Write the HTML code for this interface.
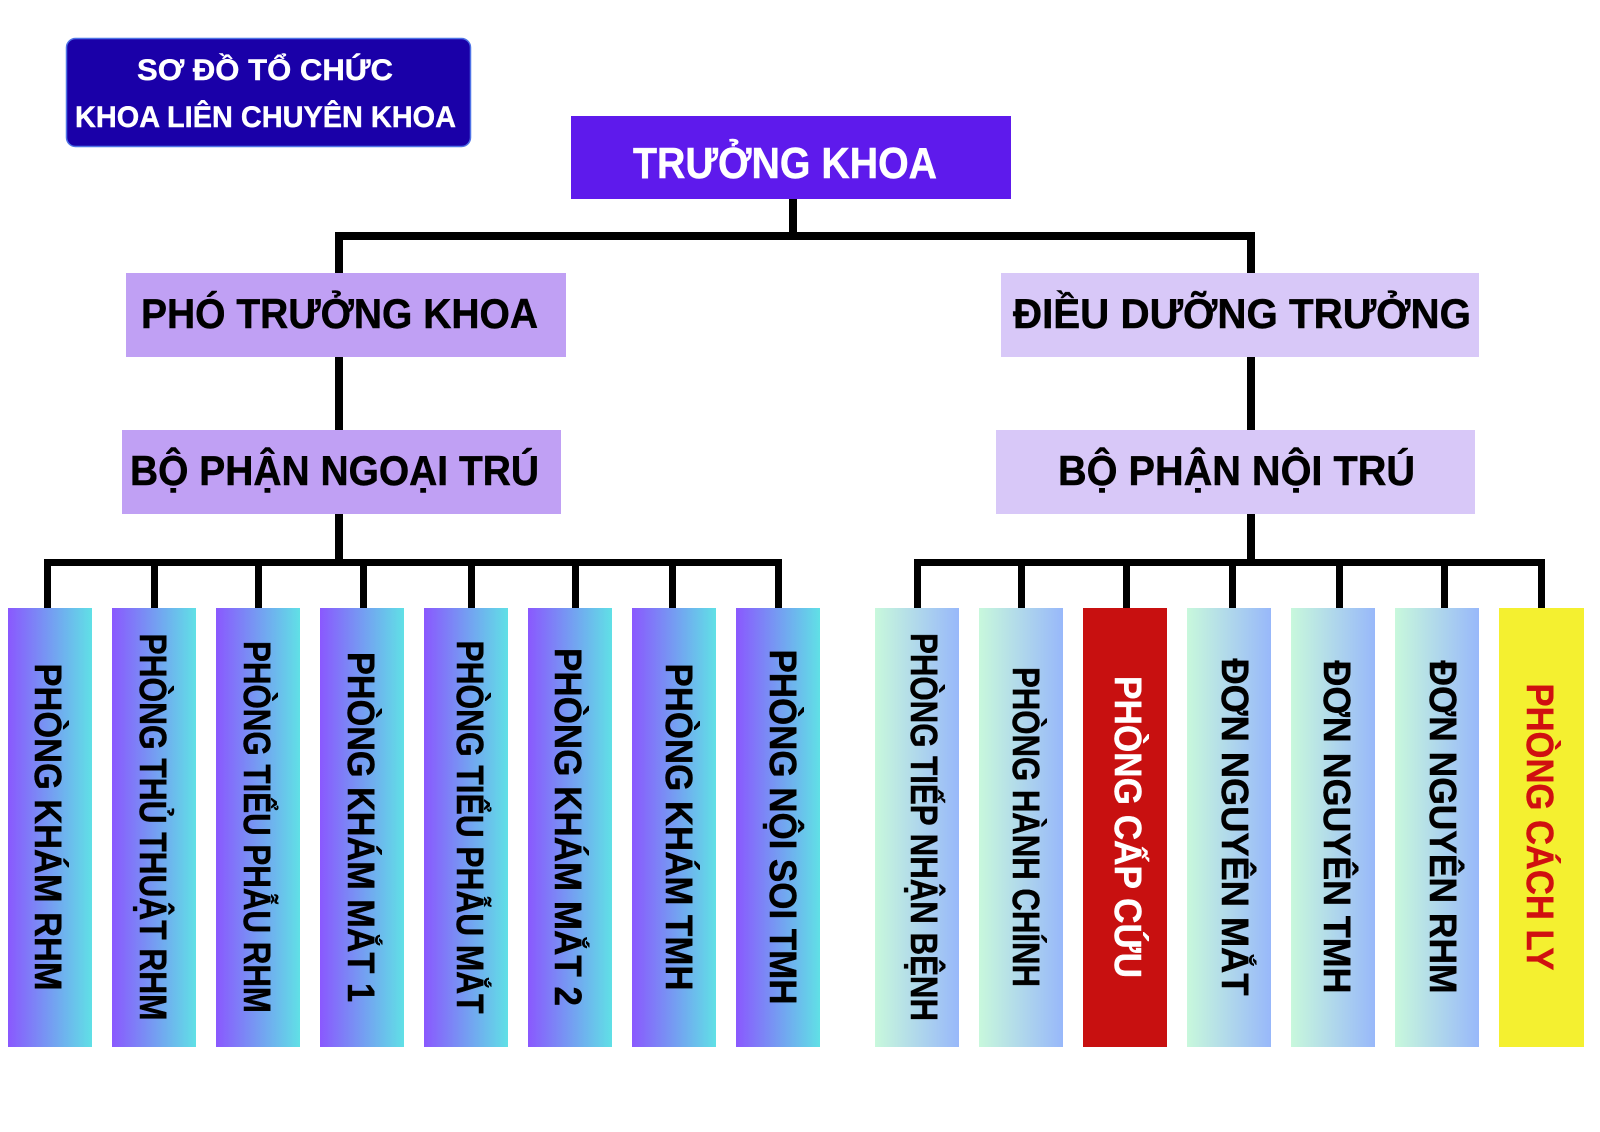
<!DOCTYPE html>
<html><head><meta charset="utf-8"><style>
html,body{margin:0;padding:0;background:#fff;}
svg{display:block;}
text{font-family:"Liberation Sans","DejaVu Sans",sans-serif;font-weight:bold;}
</style></head><body>
<svg width="1600" height="1132" viewBox="0 0 1600 1132" xmlns="http://www.w3.org/2000/svg">
<defs>
<linearGradient id="gl" x1="0" y1="0" x2="1" y2="0"><stop offset="0" stop-color="#8a58fe"/><stop offset="1" stop-color="#60e0e6"/></linearGradient>
<linearGradient id="gr" x1="0" y1="0" x2="1" y2="0"><stop offset="0" stop-color="#c8f8dc"/><stop offset="1" stop-color="#98b8fa"/></linearGradient>
</defs>
<rect width="1600" height="1132" fill="#fff"/>
<!-- title -->
<rect x="66.5" y="38.5" width="404" height="108" rx="9" fill="#1a00a8" stroke="#4f73e6" stroke-width="1.5"/>
<text x="265" y="80" fill="#fff" stroke="#fff" stroke-width="0.4" font-size="30" text-anchor="middle" textLength="256" lengthAdjust="spacingAndGlyphs">SƠ ĐỒ TỔ CHỨC</text>
<text x="265.5" y="127" fill="#fff" stroke="#fff" stroke-width="0.4" font-size="30" text-anchor="middle" textLength="381" lengthAdjust="spacingAndGlyphs">KHOA LIÊN CHUYÊN KHOA</text>
<!-- connectors top -->
<g fill="#000">
<rect x="789" y="198" width="8" height="40"/>
<rect x="335" y="232" width="920" height="8"/>
<rect x="335" y="232" width="8" height="42"/>
<rect x="1247" y="232" width="8" height="42"/>
<rect x="335" y="356" width="8" height="75"/>
<rect x="1247" y="356" width="8" height="75"/>
<rect x="335" y="513" width="8" height="50"/>
<rect x="1247" y="513" width="8" height="50"/>
<rect x="44" y="559" width="738" height="7"/>
<rect x="914" y="559" width="631" height="7"/>
<rect x="44" y="559" width="7" height="50"/>
<rect x="151" y="559" width="7" height="50"/>
<rect x="255" y="559" width="7" height="50"/>
<rect x="360" y="559" width="7" height="50"/>
<rect x="468" y="559" width="7" height="50"/>
<rect x="572" y="559" width="7" height="50"/>
<rect x="669" y="559" width="7" height="50"/>
<rect x="775" y="559" width="7" height="50"/>
<rect x="914" y="559" width="7" height="50"/>
<rect x="1018" y="559" width="7" height="50"/>
<rect x="1123" y="559" width="7" height="50"/>
<rect x="1229" y="559" width="7" height="50"/>
<rect x="1336" y="559" width="7" height="50"/>
<rect x="1441" y="559" width="7" height="50"/>
<rect x="1538" y="559" width="7" height="50"/>
</g>
<!-- main boxes -->
<rect x="571" y="116" width="440" height="83" fill="#5e1aec"/>
<text x="785" y="178" fill="#fff" stroke="#fff" stroke-width="0.5" font-size="44" text-anchor="middle" textLength="304" lengthAdjust="spacingAndGlyphs">TRƯỞNG KHOA</text>
<g stroke="#000" stroke-width="0.5">
<rect x="126" y="273" width="440" height="84" fill="#c0a0f4" stroke="none"/>
<text x="339.5" y="328" fill="#000" font-size="42" text-anchor="middle" textLength="397" lengthAdjust="spacingAndGlyphs">PHÓ TRƯỞNG KHOA</text>
<rect x="1001" y="273" width="478" height="84" fill="#d8c8f8" stroke="none"/>
<text x="1242" y="328" fill="#000" font-size="42" text-anchor="middle" textLength="458" lengthAdjust="spacingAndGlyphs">ĐIỀU DƯỠNG TRƯỞNG</text>
<rect x="122" y="430" width="439" height="84" fill="#c0a0f4" stroke="none"/>
<text x="334.5" y="485" fill="#000" font-size="42" text-anchor="middle" textLength="409" lengthAdjust="spacingAndGlyphs">BỘ PHẬN NGOẠI TRÚ</text>
<rect x="996" y="430" width="479" height="84" fill="#d8c8f8" stroke="none"/>
<text x="1236.5" y="485" fill="#000" font-size="42" text-anchor="middle" textLength="357" lengthAdjust="spacingAndGlyphs">BỘ PHẬN NỘI TRÚ</text>
</g>
<!-- bottom boxes -->
<g>
<rect x="8" y="608" width="84" height="439" fill="url(#gl)"/>
<rect x="112" y="608" width="84" height="439" fill="url(#gl)"/>
<rect x="216" y="608" width="84" height="439" fill="url(#gl)"/>
<rect x="320" y="608" width="84" height="439" fill="url(#gl)"/>
<rect x="424" y="608" width="84" height="439" fill="url(#gl)"/>
<rect x="528" y="608" width="84" height="439" fill="url(#gl)"/>
<rect x="632" y="608" width="84" height="439" fill="url(#gl)"/>
<rect x="736" y="608" width="84" height="439" fill="url(#gl)"/>
<rect x="875" y="608" width="84" height="439" fill="url(#gr)"/>
<rect x="979" y="608" width="84" height="439" fill="url(#gr)"/>
<rect x="1083" y="608" width="84" height="439" fill="#c81010"/>
<rect x="1187" y="608" width="84" height="439" fill="url(#gr)"/>
<rect x="1291" y="608" width="84" height="439" fill="url(#gr)"/>
<rect x="1395" y="608" width="84" height="439" fill="url(#gr)"/>
<rect x="1499" y="608" width="85" height="439" fill="#f4f030"/>
</g>
<g font-size="38" text-anchor="middle" fill="#000" stroke="#000" stroke-width="0.5">
<text transform="translate(35,827) rotate(90)" textLength="327" lengthAdjust="spacingAndGlyphs">PHÒNG KHÁM RHM</text>
<text transform="translate(140,827) rotate(90)" textLength="387" lengthAdjust="spacingAndGlyphs">PHÒNG THỦ THUẬT RHM</text>
<text transform="translate(244,827) rotate(90)" textLength="372" lengthAdjust="spacingAndGlyphs">PHÒNG TIỂU PHẪU RHM</text>
<text transform="translate(348,827) rotate(90)" textLength="350" lengthAdjust="spacingAndGlyphs">PHÒNG KHÁM MẮT 1</text>
<text transform="translate(457,827) rotate(90)" textLength="373" lengthAdjust="spacingAndGlyphs">PHÒNG TIỂU PHẪU MẮT</text>
<text transform="translate(555,827) rotate(90)" textLength="358" lengthAdjust="spacingAndGlyphs">PHÒNG KHÁM MẮT 2</text>
<text transform="translate(666,827) rotate(90)" textLength="327" lengthAdjust="spacingAndGlyphs">PHÒNG KHÁM TMH</text>
<text transform="translate(770,827) rotate(90)" textLength="355" lengthAdjust="spacingAndGlyphs">PHÒNG NỘI SOI TMH</text>
<text transform="translate(911,827) rotate(90)" textLength="388" lengthAdjust="spacingAndGlyphs">PHÒNG TIẾP NHẬN BỆNH</text>
<text transform="translate(1013,827) rotate(90)" textLength="320" lengthAdjust="spacingAndGlyphs">PHÒNG HÀNH CHÍNH</text>
<text transform="translate(1115,827) rotate(90)" textLength="302" lengthAdjust="spacingAndGlyphs" fill="#fff" stroke="#fff">PHÒNG CẤP CỨU</text>
<text transform="translate(1222,827) rotate(90)" textLength="337" lengthAdjust="spacingAndGlyphs">ĐƠN NGUYÊN MẮT</text>
<text transform="translate(1324,827) rotate(90)" textLength="333" lengthAdjust="spacingAndGlyphs">ĐƠN NGUYÊN TMH</text>
<text transform="translate(1430,827) rotate(90)" textLength="333" lengthAdjust="spacingAndGlyphs">ĐƠN NGUYÊN RHM</text>
<text transform="translate(1527,827) rotate(90)" textLength="287" lengthAdjust="spacingAndGlyphs" fill="#d01010" stroke="#d01010">PHÒNG CÁCH LY</text>
</g>
</svg>
</body></html>
